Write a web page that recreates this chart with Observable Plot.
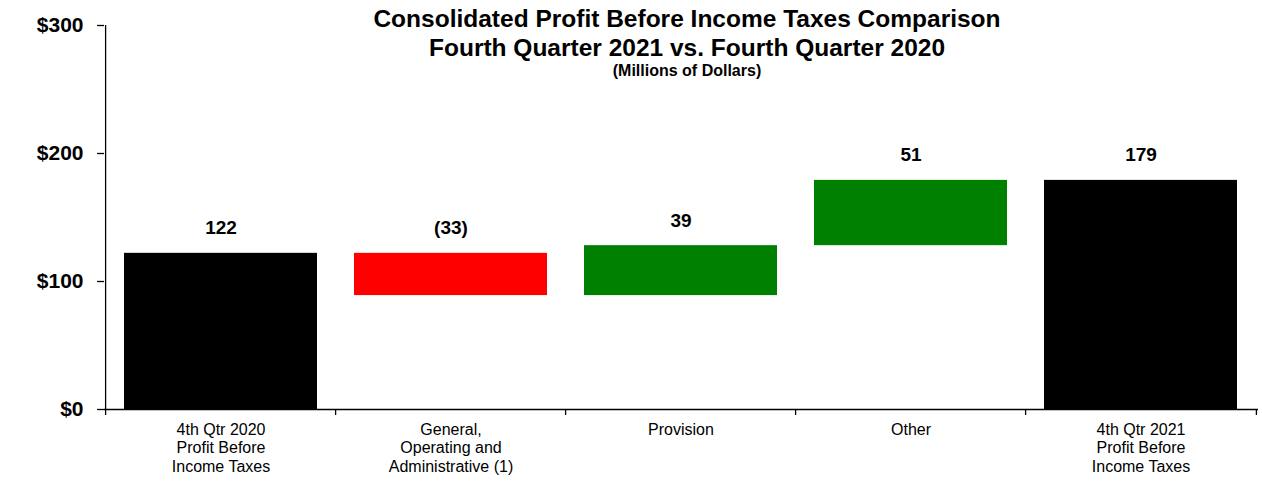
<!DOCTYPE html>
<html>
<head>
<meta charset="utf-8">
<script src="https://cdn.jsdelivr.net/npm/d3@7"></script>
<script src="https://cdn.jsdelivr.net/npm/@observablehq/plot@0.6"></script>
<style>
  body { margin: 0; background: #fff; font-family: "Liberation Sans", Arial, sans-serif; }
  #wrap { position: relative; width: 1262px; height: 493px; }
  #title { position: absolute; top: 4px; left: 112px; width: 1150px; text-align: center; color: #000; pointer-events: none; }
  #title .t { font-size: 24.5px; font-weight: bold; line-height: 29px; }
  #title .s { font-size: 16px; font-weight: bold; line-height: 18px; }
</style>
</head>
<body>
<div id="wrap">
  <div id="chart"></div>
  <div id="title">
    <div class="t">Consolidated Profit Before Income Taxes Comparison</div>
    <div class="t">Fourth Quarter 2021 vs. Fourth Quarter 2020</div>
    <div class="s">(Millions of Dollars)</div>
  </div>
</div>
<script>
const categories = ["q2020", "goa", "provision", "other", "q2021"];
const categoryLabels = [
  "4th Qtr 2020\nProfit Before\nIncome Taxes",
  "General,\nOperating and\nAdministrative (1)",
  "Provision",
  "Other",
  "4th Qtr 2021\nProfit Before\nIncome Taxes"
];
const values = [122, -33, 39, 51, 179];
const kinds = ["total", "change", "change", "change", "total"];
const valueLabels = ["122", "(33)", "39", "51", "179"];
const yTicks = [0, 100, 200, 300];

// waterfall table built from the arrays above
let running = 0;
const rows = categories.map((c, i) => {
  let y1, y2, color;
  if (kinds[i] === "total") {
    y1 = 0; y2 = values[i]; running = values[i]; color = "#000000";
  } else {
    y1 = running; y2 = running + values[i]; running = y2;
    color = values[i] < 0 ? "#ff0000" : "#008000";
  }
  return {cat: c, y1, y2, top: Math.max(y1, y2), color, label: valueLabels[i]};
});

const W = 1262, H = 493, ML = 104, MR = 4, MT = 25, MB = 84;
const step = (W - ML - MR) / categories.length;
const labelOf = new Map(categories.map((c, i) => [c, categoryLabels[i]]));

const chart = Plot.plot({
  width: W,
  height: H,
  marginTop: MT,
  marginLeft: ML,
  marginRight: MR,
  marginBottom: MB,
  style: {fontFamily: "'Liberation Sans', Arial, sans-serif", color: "#000", background: "#fff", overflow: "visible"},
  x: {domain: categories, paddingInner: 0.16, paddingOuter: 0.08, label: null},
  y: {domain: [0, 300], label: null},
  color: {type: "identity"},
  marks: [
    Plot.barY(rows, {x: "cat", y1: "y1", y2: "y2", fill: "color"}),
    Plot.text(rows, {x: "cat", y: "top", text: "label", dy: -25, fontSize: 19, fontWeight: "bold", fill: "#000"}),
    Plot.ruleY([0], {stroke: "#000", strokeWidth: 1.3}),
    Plot.ruleX([categories[0]], {dx: -step / 2, stroke: "#000", strokeWidth: 1.3}),
    Plot.axisY({ticks: yTicks, tickFormat: d => "$" + d, tickSize: 7, tickPadding: 14, fontSize: 21, fontWeight: "bold", label: null, stroke: "#000", strokeWidth: 1.3}),
    Plot.axisX({tickSize: 0, tickPadding: 12, tickFormat: d => labelOf.get(d), fontSize: 16, lineHeight: 1.16, lineAnchor: "top", label: null}),
    Plot.axisX({tickSize: 6, tickFormat: () => "", dx: -step / 2, label: null, stroke: "#000", strokeWidth: 1.3}),
    Plot.axisX([categories[categories.length - 1]], {tickSize: 6, tickFormat: () => "", dx: step / 2, label: null, stroke: "#000", strokeWidth: 1.3})
  ]
});
document.getElementById("chart").appendChild(chart);
</script>
</body>
</html>
